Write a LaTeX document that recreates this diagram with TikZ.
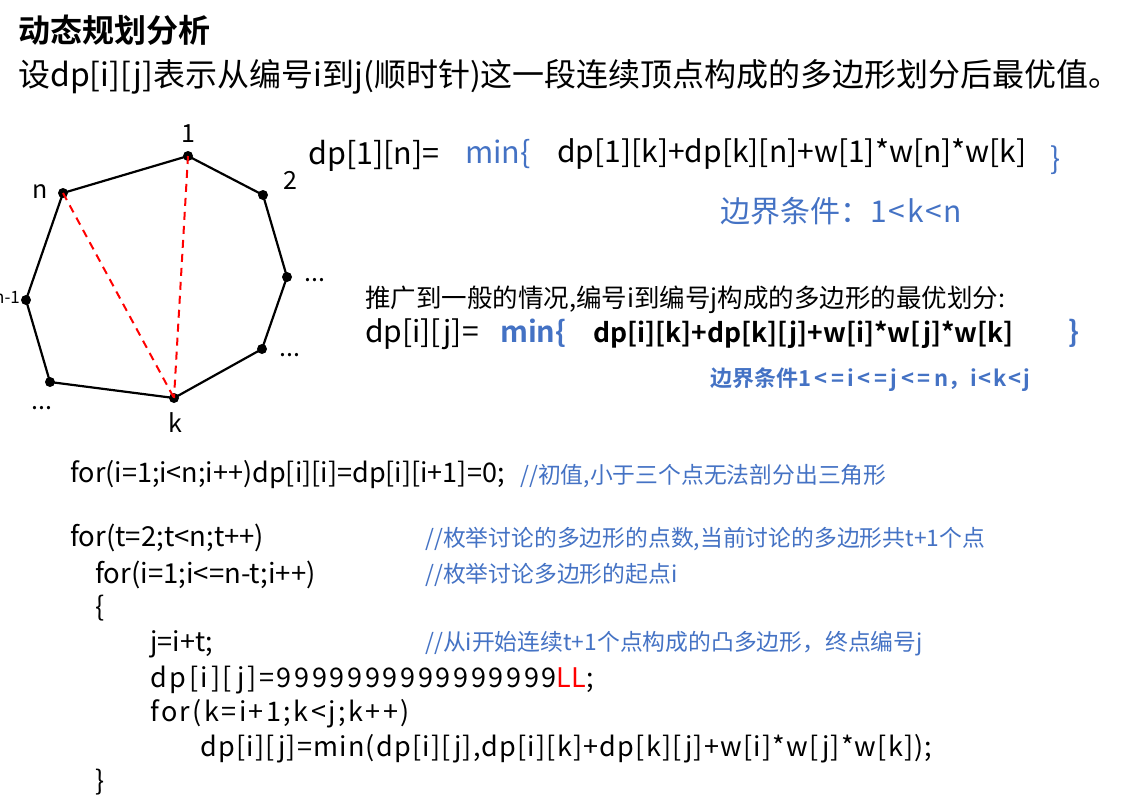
\documentclass[tikz,border=0pt]{standalone}
\usepackage{fontspec}
\setmainfont{Noto Sans CJK SC}[BoldFont={Noto Sans CJK SC Bold}]
\usetikzlibrary{positioning}
\definecolor{cmtblue}{RGB}{68,114,196}
\newcommand\fsz[1]{\fontsize{#1}{#1}\selectfont}
\newcommand\spaced[2]{{\addfontfeature{LetterSpace=#1}#2}}

\begin{document}
\begin{tikzpicture}[x=1pt,y=-1pt,
  vtx/.style={circle,fill=black,inner sep=0pt,minimum size=10pt},
  edge/.style={line width=2.2pt},
  diag/.style={red,line width=2pt,dash pattern=on 8pt off 6pt},
  txt/.style={anchor=west,inner sep=0pt},
  cmt/.style={txt,text=cmtblue},
  vlbl/.style={inner sep=0pt,font=\fsz{25}}]
\useasboundingbox (0,0) rectangle (1124,808);

% heading
\node[txt] (title) at (18,30) {\fsz{32}\bfseries 动态规划分析};
\node[txt] (def) at (18,77) {\fsz{32}设dp[i][j]表示从编号i到j(顺时针)这一段连续顶点构成的多边形划分后最优值。};

% polygon
\node[vtx] (p1) at (188,156) {};
\node[vtx] (p2) at (263,195) {};
\node[vtx] (p3) at (287,277) {};
\node[vtx] (p4) at (262,349) {};
\node[vtx] (pk) at (174,398) {};
\node[vtx] (p6) at (50,382) {};
\node[vtx] (p7) at (26,300) {};
\node[vtx] (pn) at (63,193) {};
\draw[edge] (p1.center) -- (p2.center) -- (p3.center) -- (p4.center) -- (pk.center)
  -- (p6.center) -- (p7.center) -- (pn.center) -- cycle;
\draw[diag] (pn.center) -- (pk.center);
\draw[diag] (p1.center) -- (pk.center);
\node[vlbl] (l1) at (188,134) {1};
\node[vlbl] (l2) at (290,180) {2};
\node[vlbl] (l3) at (315,280) {...};
\node[vlbl] (l4) at (290,355) {...};
\node[vlbl] (lk) at (175,423) {k};
\node[vlbl] (l6) at (42,408) {...};
\node[inner sep=0pt,font=\fsz{17}] (l7) at (7,297) {n-1};
\node[vlbl] (ln) at (40,192) {n};

% recurrence for dp[1][n]
\node[txt] (eq1) at (308,156) {\fsz{30.5}dp[1][n]=};
\node[cmt] (min1) at (465,154) {\fsz{30.5}min\{};
\node[txt] (sum1) at (557,154) {\fsz{30}dp[1][k]+dp[k][n]+w[1]*w[n]*w[k]};
\node[cmt] (close1) at (1050,160) {\fsz{30}\}};
\node[cmt] (cond1) at (720,211) {\fsz{30}边界条件：\spaced{6}{1<k<n}};

% general case
\node[txt] (gen) at (365,300) {\fsz{25.5}推广到一般的情况,编号i到编号j构成的多边形的最优划分:};
\node[txt] (eq2) at (365,334) {\fsz{30}dp[i][j]=};
\node[cmt] (min2) at (500,333) {\fsz{29}\bfseries min\{};
\node[txt] (sum2) at (593,335) {\fsz{26.5}\bfseries dp[i][k]+dp[k][j]+w[i]*w[j]*w[k]};
\node[cmt] (close2) at (1068,333) {\fsz{29}\bfseries\}};
\node[cmt] (cond2) at (710,380) {\fsz{22}\bfseries 边界条件\spaced{16}{1<=i<=j<=n}，\spaced{8}{i<k<j}};

% code
\node[txt] (c1) at (70,475) {\fsz{27}for(i=1;i<n;i++)dp[i][i]=dp[i][i+1]=0;};
\node[cmt] (m1) at (520,476) {\fsz{22.8}//初值,小于三个点无法剖分出三角形};
\node[txt] (c2) at (70,538) {\fsz{27.5}for(t=2;t<n;t++)};
\node[cmt] (m2) at (425,539) {\fsz{22.8}//枚举讨论的多边形的点数,当前讨论的多边形共t+1个点};
\node[txt] (c3) at (95,575) {\fsz{27.5}for(i=1;i<=n-t;i++)};
\node[cmt] (m3) at (425,575) {\fsz{22.8}//枚举讨论多边形的起点i};
\node[txt] (c4) at (95,608) {\fsz{27}\{};
\node[txt] (c5) at (150,644) {\fsz{27}j=i+t;};
\node[cmt] (m5) at (425,644) {\fsz{22.8}//从i开始连续t+1个点构成的凸多边形，终点编号j};
\node[txt] (c6) at (150,680) {\fsz{27}\spaced{10}{dp[i][j]=9999999999999999}\textcolor{red}{LL};};
\node[txt] (c7) at (150,714) {\fsz{27}\spaced{9}{for(k=i+1;k<j;k++)}};
\node[txt] (c8) at (200,749) {\fsz{27}\spaced{4.5}{dp[i][j]=min(dp[i][j],dp[i][k]+dp[k][j]+w[i]*w[j]*w[k]);}};
\node[txt] (c9) at (95,782) {\fsz{27}\}};
\end{tikzpicture}
\end{document}
